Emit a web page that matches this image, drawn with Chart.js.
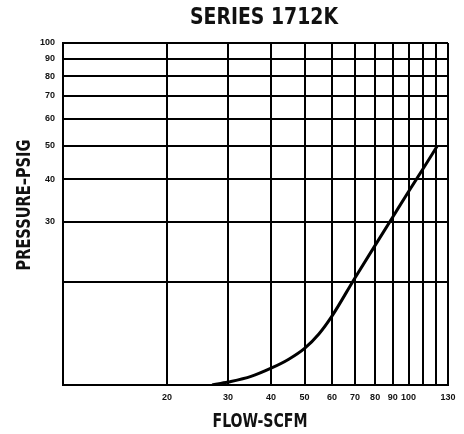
<!DOCTYPE html>
<html>
<head>
<meta charset="utf-8">
<script src="https://cdn.jsdelivr.net/npm/chart.js@4/dist/chart.umd.min.js"></script>
<style>
  html, body { margin: 0; padding: 0; background: #fff; }
  canvas { display: block; }
</style>
</head>
<body>
<canvas id="chart" width="464" height="434"></canvas>
<script>
// curve (flow in SCFM, pressure in PSIG)
var flow     = [27, 30,   35,   40,   45,   50,   55,   60,   70,   80,   90, 100,  110,  121];
var pressure = [10, 10.2, 10.6, 11.2, 11.9, 12.8, 14.1, 15.9, 20.6, 25.6, 31, 36.8, 42.8, 50];

// grid lines and which of them carry a label
var xGrid   = [10, 20, 30, 40, 50, 60, 70, 80, 90, 100, 110, 120, 130];
var xLabels = [20, 30, 40, 50, 60, 70, 80, 90, 100, 130];
var yGrid   = [10, 20, 30, 40, 50, 60, 70, 80, 90, 100];
var yLabels = [30, 40, 50, 60, 70, 80, 90, 100];

var chartTitle = 'SERIES 1712K';
var xTitle = 'FLOW-SCFM';
var yTitle = 'PRESSURE–PSIG';

var narrow = '"Liberation Sans Narrow", "DejaVu Sans Condensed", "Roboto", sans-serif';
var tickFont = { family: '"Liberation Sans", Arial, sans-serif', size: 9, weight: 'bold' };

// draws text squeezed to a given width (the scan uses a condensed face)
function fitText(ctx, text, cx, cy, width, size, rot) {
  ctx.save();
  ctx.font = 'bold ' + size + 'px ' + narrow;
  var w = ctx.measureText(text).width;
  ctx.translate(cx, cy);
  if (rot) ctx.rotate(rot);
  ctx.scale(width / w, 1);
  ctx.fillStyle = '#111';
  ctx.textAlign = 'center';
  ctx.textBaseline = 'middle';
  ctx.fillText(text, 0, 0);
  ctx.restore();
}

var titles = {
  id: 'titles',
  afterDraw: function (chart) {
    var ctx = chart.ctx;
    fitText(ctx, chartTitle, 264, 18, 148, 23);
    fitText(ctx, xTitle, 260, 422, 95, 20);
    fitText(ctx, yTitle, 25, 205, 131, 20, -Math.PI / 2);
  }
};

var config = {
  type: 'line',
  data: {
    datasets: [{
      data: flow.map(function (f, i) { return { x: f, y: pressure[i] }; }),
      borderColor: '#000',
      borderWidth: 3,
      pointRadius: 0,
      cubicInterpolationMode: 'monotone',
      fill: false
    }]
  },
  options: {
    responsive: false,
    animation: false,
    layout: { padding: { left: 0, right: 16, top: 43, bottom: 0 } },
    scales: {
      x: {
        type: 'logarithmic',
        min: 10,
        max: 130,
        afterBuildTicks: function (s) { s.ticks = xGrid.map(function (v) { return { value: v }; }); },
        afterFit: function (s) { s.height = 49; },
        grid: { color: '#000', lineWidth: 2, drawTicks: false },
        border: { color: '#000', width: 2 },
        ticks: {
          autoSkip: false,
          maxRotation: 0,
          padding: 7,
          color: '#111',
          font: tickFont,
          callback: function (v) { return xLabels.indexOf(v) >= 0 ? String(v) : ''; }
        }
      },
      y: {
        type: 'logarithmic',
        min: 10,
        max: 100,
        afterBuildTicks: function (s) { s.ticks = yGrid.map(function (v) { return { value: v }; }); },
        afterFit: function (s) { s.width = 63; },
        grid: { color: '#000', lineWidth: 2, drawTicks: false },
        border: { color: '#000', width: 2 },
        ticks: {
          autoSkip: false,
          padding: 8,
          color: '#111',
          font: tickFont,
          callback: function (v) { return yLabels.indexOf(v) >= 0 ? String(v) : ''; }
        }
      }
    },
    plugins: {
      legend: { display: false },
      tooltip: { enabled: false }
    }
  },
  plugins: [titles]
};

new Chart(document.getElementById('chart'), config);
</script>
</body>
</html>
